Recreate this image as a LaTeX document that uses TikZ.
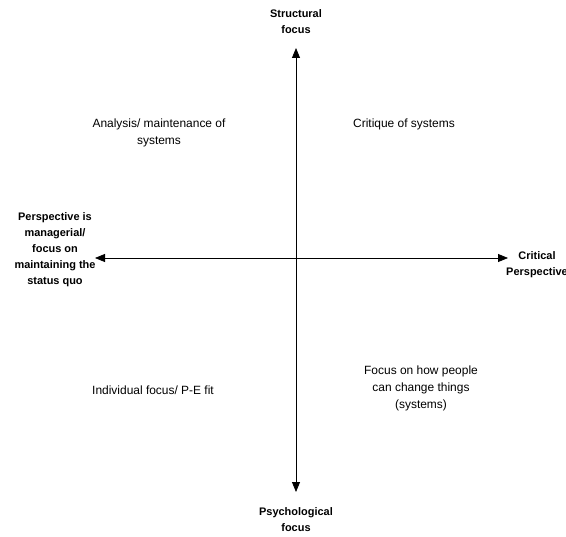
\documentclass[tikz,border=0pt]{standalone}
\usepackage{fontspec}
\setmainfont{Liberation Sans}
\usetikzlibrary{arrows.meta}
\tikzset{
  axislabel/.style={font=\fontsize{11}{16}\selectfont\bfseries, align=center},
  quadtext/.style={font=\fontsize{12}{17}\selectfont, align=center},
  axis/.style={line width=0.8bp, {Triangle[length=10bp,width=8bp]}-{Triangle[length=10bp,width=8bp]}}
}
\begin{document}
\begin{tikzpicture}[x=1bp,y=-1bp]
    \useasboundingbox (0,0) rectangle (566,537);
    \coordinate (T) at (296,48);
    \coordinate (B) at (296,492);
    \coordinate (L) at (95,258);
    \coordinate (R) at (508,258);
    \draw[axis] (T)--(B);
    \draw[axis] (L)--(R);
    \node[axislabel] (structural) at (296,22) {Structural\\focus};
    \node[axislabel] (psychological) at (296,520) {Psychological\\focus};
    \node[axislabel] (managerial) at (55,250) {Perspective is\\managerial/\\focus on\\maintaining the\\status quo};
    \node[axislabel] (critical) at (537,265) {Critical\\Perspective};
    \node[quadtext] (analysis) at (159,133) {Analysis/ maintenance of\\systems};
    \node[quadtext] (critique) at (404,124) {Critique of systems};
    \node[quadtext] (individual) at (153,390) {Individual focus/ P-E fit};
    \node[quadtext] (change) at (421,388) {Focus on how people\\can change things\\(systems)};
\end{tikzpicture}
\end{document}
